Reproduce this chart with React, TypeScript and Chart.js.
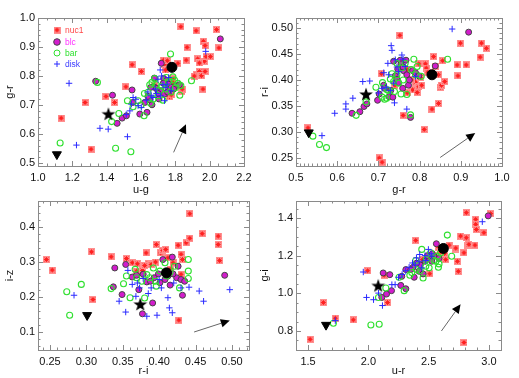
import React, { useEffect, useRef } from "react";
import { Chart, registerables } from "chart.js";

Chart.register(...registerables);

type Pt = [number, number];

// ---------------- Panel 1 : u-g vs g-r ----------------
const P1_NUC1: Pt[] = [[1.135,0.655],[1.274,0.709],[1.309,0.548],[1.396,0.730],[1.446,0.709],[1.512,0.763],[1.548,0.839],[1.602,0.816],[1.680,0.767],[1.732,0.855],[1.737,0.841],[1.743,0.821],[1.766,0.729],[1.786,0.790],[1.786,0.778],[1.815,0.844],[1.832,0.970],[1.838,0.747],[1.863,0.855],[1.868,0.899],[1.921,0.956],[1.925,0.805],[1.930,0.859],[1.940,0.816],[1.952,0.801],[1.963,0.920],[1.973,0.905],[1.969,0.851],[1.973,0.816],[1.961,0.755],[1.979,0.867],[2.004,0.867],[2.040,0.960],[2.054,0.897],[1.753,0.853],[1.776,0.735],[1.760,0.760],[1.940,0.845],[1.910,0.800],[1.840,0.755]];
const P1_BLC: Pt[] = [[1.336,0.782],[1.434,0.734],[1.461,0.637],[1.490,0.655],[1.515,0.663],[1.548,0.752],[1.552,0.709],[1.593,0.669],[1.622,0.709],[1.635,0.675],[1.651,0.718],[1.664,0.701],[1.678,0.793],[1.680,0.761],[1.705,0.721],[1.718,0.749],[1.718,0.844],[1.732,0.792],[1.737,0.738],[1.747,0.784],[1.761,0.772],[1.776,0.761],[1.805,0.767],[1.824,0.770],[2.062,0.928],[1.657,0.761],[1.690,0.757],[1.700,0.740],[1.730,0.775],[1.790,0.755],[1.640,0.730],[1.755,0.745]];
const P1_BAR: Pt[] = [[1.129,0.569],[1.346,0.778],[1.429,0.643],[1.471,0.671],[1.452,0.551],[1.521,0.715],[1.541,0.539],[1.554,0.694],[1.583,0.715],[1.618,0.663],[1.641,0.744],[1.656,0.706],[1.664,0.778],[1.689,0.770],[1.728,0.717],[1.747,0.795],[1.772,0.876],[1.795,0.786],[1.815,0.775],[1.826,0.734],[1.832,0.767],[1.894,0.784],[1.680,0.791],[1.699,0.732],[1.743,0.755],[1.786,0.797],[1.651,0.770],[1.710,0.750],[1.760,0.780],[1.800,0.760],[1.620,0.740],[1.670,0.720],[1.720,0.765],[1.775,0.745],[1.600,0.700]];
const P1_DISK: Pt[] = [[1.181,0.775],[1.224,0.562],[1.361,0.620],[1.409,0.617],[1.521,0.591],[1.514,0.667],[1.535,0.680],[1.544,0.703],[1.554,0.726],[1.583,0.698],[1.602,0.692],[1.631,0.717],[1.660,0.732],[1.670,0.726],[1.683,0.755],[1.712,0.821],[1.714,0.732],[1.728,0.770],[1.737,0.715],[1.753,0.772],[1.761,0.795],[1.776,0.749],[1.977,0.885],[1.699,0.789],[1.690,0.740],[1.640,0.745],[1.745,0.760],[1.720,0.800],[1.570,0.720]];
const P1_CIRCLE: Pt = [1.78, 0.83];
const P1_STAR: Pt = [1.41, 0.67];
const P1_TRIANGLE: Pt = [1.11, 0.53];
const P1_ARROW: Pt[] = [[1.79, 0.537], [1.862, 0.634]];
const P1_X_TICKS = [1.0, 1.2, 1.4, 1.6, 1.8, 2.0, 2.2];
const P1_Y_TICKS = [0.5, 0.6, 0.7, 0.8, 0.9, 1.0];

// ---------------- Panel 2 : g-r vs r-i ----------------
const P2_NUC1: Pt[] = [[0.529,0.308],[0.702,0.250],[0.709,0.242],[0.707,0.412],[0.752,0.486],[0.760,0.332],[0.783,0.381],[0.790,0.396],[0.794,0.376],[0.798,0.431],[0.798,0.387],[0.802,0.405],[0.811,0.305],[0.814,0.431],[0.816,0.423],[0.834,0.445],[0.838,0.426],[0.846,0.410],[0.846,0.355],[0.850,0.386],[0.853,0.390],[0.856,0.437],[0.830,0.344],[0.861,0.397],[0.891,0.429],[0.893,0.408],[0.899,0.471],[0.913,0.429],[0.950,0.471],[0.947,0.444],[0.962,0.461],[0.770,0.420],[0.780,0.400],[0.820,0.415],[0.740,0.390],[0.805,0.390],[0.770,0.375]];
const P2_BLC: Pt[] = [[0.636,0.336],[0.655,0.339],[0.665,0.349],[0.672,0.354],[0.698,0.361],[0.702,0.373],[0.713,0.390],[0.715,0.384],[0.726,0.368],[0.735,0.367],[0.737,0.436],[0.741,0.408],[0.745,0.401],[0.747,0.421],[0.753,0.438],[0.755,0.431],[0.759,0.384],[0.761,0.418],[0.767,0.438],[0.769,0.410],[0.773,0.390],[0.778,0.328],[0.783,0.418],[0.790,0.414],[0.798,0.408],[0.838,0.427],[0.919,0.492],[0.749,0.395],[0.730,0.380],[0.760,0.425],[0.775,0.400]];
const P2_BAR: Pt[] = [[0.541,0.292],[0.557,0.276],[0.574,0.270],[0.646,0.332],[0.670,0.358],[0.694,0.386],[0.709,0.367],[0.715,0.363],[0.721,0.381],[0.729,0.402],[0.733,0.412],[0.739,0.378],[0.745,0.432],[0.749,0.394],[0.755,0.373],[0.757,0.423],[0.765,0.432],[0.769,0.372],[0.778,0.333],[0.786,0.440],[0.790,0.410],[0.794,0.426],[0.804,0.407],[0.868,0.440],[0.725,0.380],[0.737,0.397],[0.710,0.395],[0.760,0.400],[0.720,0.365],[0.780,0.420],[0.745,0.410]];
const P2_DISK: Pt[] = [[0.594,0.336],[0.621,0.354],[0.621,0.344],[0.638,0.365],[0.662,0.397],[0.679,0.398],[0.709,0.384],[0.713,0.414],[0.719,0.386],[0.723,0.432],[0.731,0.466],[0.733,0.457],[0.737,0.394],[0.739,0.356],[0.741,0.439],[0.749,0.416],[0.757,0.448],[0.765,0.426],[0.769,0.344],[0.790,0.407],[0.879,0.498],[0.563,0.293],[0.729,0.380],[0.700,0.375],[0.745,0.425],[0.760,0.440],[0.725,0.410]];
const P2_CIRCLE: Pt = [0.83, 0.41];
const P2_STAR: Pt = [0.67, 0.373];
const P2_TRIANGLE: Pt = [0.531, 0.299];
const P2_ARROW: Pt[] = [[0.85, 0.251], [0.935, 0.298]];
const P2_X_TICKS = [0.5, 0.6, 0.7, 0.8, 0.9, 1.0];
const P2_Y_TICKS = [0.25, 0.3, 0.35, 0.4, 0.45, 0.5];

// ---------------- Panel 3 : r-i vs i-z ----------------
const P3_NUC1: Pt[] = [[0.245,0.307],[0.253,0.277],[0.307,0.329],[0.309,0.193],[0.334,0.315],[0.355,0.310],[0.363,0.298],[0.369,0.274],[0.377,0.276],[0.382,0.326],[0.385,0.295],[0.389,0.293],[0.396,0.350],[0.402,0.326],[0.405,0.333],[0.409,0.336],[0.412,0.312],[0.419,0.298],[0.426,0.348],[0.427,0.134],[0.430,0.322],[0.437,0.355],[0.442,0.438],[0.442,0.368],[0.459,0.381],[0.481,0.374],[0.481,0.350],[0.483,0.304],[0.432,0.307],[0.380,0.290],[0.395,0.300],[0.370,0.295],[0.415,0.280],[0.430,0.265]];
const P3_BLC: Pt[] = [[0.339,0.283],[0.337,0.229],[0.349,0.207],[0.354,0.293],[0.363,0.257],[0.369,0.262],[0.372,0.221],[0.377,0.152],[0.383,0.243],[0.391,0.183],[0.393,0.255],[0.399,0.266],[0.401,0.241],[0.405,0.307],[0.412,0.260],[0.415,0.234],[0.418,0.314],[0.424,0.255],[0.426,0.288],[0.430,0.250],[0.432,0.205],[0.435,0.245],[0.490,0.262],[0.388,0.245],[0.419,0.266],[0.378,0.265],[0.408,0.250]];
const P3_BAR: Pt[] = [[0.273,0.215],[0.277,0.148],[0.293,0.236],[0.334,0.224],[0.351,0.238],[0.360,0.198],[0.367,0.279],[0.376,0.245],[0.380,0.197],[0.387,0.255],[0.392,0.283],[0.396,0.231],[0.408,0.298],[0.421,0.288],[0.428,0.226],[0.440,0.307],[0.440,0.274],[0.440,0.253],[0.410,0.260],[0.401,0.274],[0.383,0.264],[0.369,0.255],[0.395,0.245],[0.415,0.270],[0.355,0.260]];
const P3_DISK: Pt[] = [[0.283,0.205],[0.345,0.188],[0.354,0.157],[0.357,0.276],[0.363,0.236],[0.368,0.202],[0.373,0.226],[0.378,0.253],[0.383,0.145],[0.397,0.148],[0.403,0.226],[0.412,0.198],[0.414,0.169],[0.418,0.155],[0.430,0.226],[0.441,0.228],[0.455,0.217],[0.461,0.188],[0.497,0.221],[0.389,0.226],[0.385,0.210],[0.420,0.240],[0.400,0.250],[0.370,0.240]];
const P3_CIRCLE: Pt = [0.41, 0.269];
const P3_STAR: Pt = [0.374, 0.18];
const P3_TRIANGLE: Pt = [0.301, 0.148];
const P3_ARROW: Pt[] = [[0.448, 0.10], [0.497, 0.133]];
const P3_X_TICKS = [0.25, 0.3, 0.35, 0.4, 0.45, 0.5];
const P3_Y_TICKS = [0.1, 0.2, 0.3, 0.4];

// ---------------- Panel 4 : u-r vs g-i ----------------
const P4_NUC1: Pt[] = [[1.517,0.756],[1.627,0.951],[1.726,0.868],[1.875,0.859],[1.994,1.120],[2.159,0.951],[2.131,1.096],[2.393,1.281],[2.448,1.179],[2.509,1.104],[2.581,1.245],[2.633,1.211],[2.669,1.256],[2.724,1.233],[2.765,1.304],[2.793,0.739],[2.793,1.215],[2.812,1.428],[2.812,1.295],[2.826,1.256],[2.834,1.260],[2.738,1.170],[2.746,1.117],[2.884,1.256],[2.890,1.393],[2.890,1.366],[2.895,1.339],[2.958,1.322],[3.014,1.423],[2.641,1.179],[2.725,1.240],[2.550,1.200],[2.600,1.220]];
const P4_BLC: Pt[] = [[2.123,1.108],[2.178,1.099],[2.112,0.978],[2.151,0.996],[2.192,1.014],[2.269,1.042],[2.311,1.024],[2.277,1.090],[2.311,1.126],[2.371,1.138],[2.380,1.085],[2.420,1.117],[2.454,1.103],[2.471,1.170],[2.504,1.188],[2.526,1.170],[2.545,1.197],[2.564,1.263],[2.586,1.185],[2.994,1.411],[2.352,1.126],[2.490,1.200],[2.430,1.150],[2.400,1.160],[2.530,1.210]];
const P4_BAR: Pt[] = [[1.710,0.841],[2.021,0.832],[2.090,0.836],[2.084,0.978],[2.145,1.028],[2.297,1.014],[2.344,1.096],[2.393,1.174],[2.399,1.126],[2.443,1.233],[2.454,1.081],[2.476,1.144],[2.504,1.135],[2.545,1.174],[2.573,1.197],[2.586,1.156],[2.600,1.215],[2.655,1.309],[2.691,1.197],[2.581,1.138],[2.255,1.085],[2.517,1.215],[2.360,1.110],[2.430,1.120],[2.480,1.180],[2.560,1.170]];
const P4_DISK: Pt[] = [[1.958,1.113],[1.985,0.978],[2.043,0.966],[2.084,1.001],[2.117,0.935],[2.195,1.046],[2.222,1.046],[2.250,1.085],[2.338,1.138],[2.366,1.161],[2.399,1.188],[2.426,1.206],[2.443,1.135],[2.476,1.174],[2.498,1.233],[2.526,1.197],[2.945,1.380],[1.726,0.855],[2.280,1.100],[2.310,1.120],[2.420,1.170],[2.470,1.200],[2.520,1.210],[2.390,1.150]];
const P4_CIRCLE: Pt = [2.622, 1.238];
const P4_STAR: Pt = [2.082, 1.042];
const P4_TRIANGLE: Pt = [1.649, 0.832];
const P4_ARROW: Pt[] = [[2.606, 0.80], [2.765, 0.942]];
const P4_X_TICKS = [1.5, 2.0, 2.5, 3.0];
const P4_Y_TICKS = [0.8, 1.0, 1.2, 1.4];

const LEGEND_LABELS = ["nuc1", "blc", "bar", "disk"];

const FONT = '"Liberation Sans", Arial, Helvetica, sans-serif';
const C_NUC = "#ff2020";
const C_NUC_BG = "#ff9090";
const C_BLC = "#d21ccc";
const C_BAR = "#2fe02f";
const C_DISK = "#2a2aff";
const LEGEND_COLORS = ["#ff4a4a", "#ff30ff", "#2fe02f", "#3a3aff"];

interface PanelDef {
  area: { left: number; right: number; top: number; bottom: number };
  xRange: [number, number];
  yRange: [number, number];
  xTicks: number[];
  yTicks: number[];
  xMajor: number;
  yMajor: number;
  xMinor: number;
  yMinor: number;
  xDec: number;
  yDec: number;
  xTitle: string;
  yTitle: string;
  xTitleY: number;
  yTitleX: number;
  nuc1: Pt[];
  blc: Pt[];
  bar: Pt[];
  disk: Pt[];
  circle: Pt;
  star: Pt;
  tri: Pt;
  arrow: Pt[];
  legend: boolean;
}

const PANELS: PanelDef[] = [
  {
    area: { left: 38, right: 244, top: 18, bottom: 166 },
    xRange: [1.0, 2.2], yRange: [0.49, 1.0],
    xTicks: P1_X_TICKS, yTicks: P1_Y_TICKS,
    xMajor: 0.2, yMajor: 0.1, xMinor: 0.05, yMinor: 0.02, xDec: 1, yDec: 1,
    xTitle: "u-g", yTitle: "g-r", xTitleY: 190, yTitleX: 10,
    nuc1: P1_NUC1, blc: P1_BLC, bar: P1_BAR, disk: P1_DISK,
    circle: P1_CIRCLE, star: P1_STAR, tri: P1_TRIANGLE, arrow: P1_ARROW, legend: true,
  },
  {
    area: { left: 296, right: 502, top: 18, bottom: 166 },
    xRange: [0.5, 1.0], yRange: [0.2346, 0.5192],
    xTicks: P2_X_TICKS, yTicks: P2_Y_TICKS,
    xMajor: 0.1, yMajor: 0.05, xMinor: 0.01, yMinor: 0.01, xDec: 1, yDec: 2,
    xTitle: "g-r", yTitle: "r-i", xTitleY: 190, yTitleX: 265,
    nuc1: P2_NUC1, blc: P2_BLC, bar: P2_BAR, disk: P2_DISK,
    circle: P2_CIRCLE, star: P2_STAR, tri: P2_TRIANGLE, arrow: P2_ARROW, legend: false,
  },
  {
    area: { left: 38, right: 249, top: 201, bottom: 350 },
    xRange: [0.2335, 0.5234], yRange: [0.0486, 0.4743],
    xTicks: P3_X_TICKS, yTicks: P3_Y_TICKS,
    xMajor: 0.05, yMajor: 0.1, xMinor: 0.01, yMinor: 0.02, xDec: 2, yDec: 1,
    xTitle: "r-i", yTitle: "i-z", xTitleY: 371, yTitleX: 10,
    nuc1: P3_NUC1, blc: P3_BLC, bar: P3_BAR, disk: P3_DISK,
    circle: P3_CIRCLE, star: P3_STAR, tri: P3_TRIANGLE, arrow: P3_ARROW, legend: false,
  },
  {
    area: { left: 296, right: 501, top: 201, bottom: 350 },
    xRange: [1.4, 3.1], yRange: [0.699, 1.49],
    xTicks: P4_X_TICKS, yTicks: P4_Y_TICKS,
    xMajor: 0.5, yMajor: 0.2, xMinor: 0.1, yMinor: 0.05, xDec: 1, yDec: 1,
    xTitle: "u-r", yTitle: "g-i", xTitleY: 371, yTitleX: 265,
    nuc1: P4_NUC1, blc: P4_BLC, bar: P4_BAR, disk: P4_DISK,
    circle: P4_CIRCLE, star: P4_STAR, tri: P4_TRIANGLE, arrow: P4_ARROW, legend: false,
  },
];

function makeNucImage(): HTMLCanvasElement {
  const c = document.createElement("canvas");
  c.width = 7;
  c.height = 7;
  const g = c.getContext("2d")!;
  g.fillStyle = C_NUC_BG;
  g.fillRect(0, 0, 7, 7);
  g.strokeStyle = C_NUC;
  g.lineWidth = 1;
  g.beginPath();
  g.moveTo(3.5, 1); g.lineTo(3.5, 6);
  g.moveTo(1, 3.5); g.lineTo(6, 3.5);
  g.moveTo(1.5, 1.5); g.lineTo(5.5, 5.5);
  g.moveTo(5.5, 1.5); g.lineTo(1.5, 5.5);
  g.stroke();
  return c;
}

function makeStarImage(): HTMLCanvasElement {
  const size = 16;
  const c = document.createElement("canvas");
  c.width = size;
  c.height = size;
  const g = c.getContext("2d")!;
  g.translate(size / 2, size / 2 + 0.8);
  g.fillStyle = "#000";
  g.beginPath();
  for (let i = 0; i < 10; i++) {
    const r = i % 2 ? 2.9 : 7.2;
    const a = -Math.PI / 2 + (i * Math.PI) / 5;
    if (i === 0) g.moveTo(r * Math.cos(a), r * Math.sin(a));
    else g.lineTo(r * Math.cos(a), r * Math.sin(a));
  }
  g.closePath();
  g.fill();
  return c;
}

const toXY = (pts: Pt[]) => pts.map(([x, y]) => ({ x, y }));

function drawMinorMajor(
  ctx: CanvasRenderingContext2D,
  scale: any,
  a: any,
  horizontal: boolean,
  major: number,
  minor: number
) {
  const k0 = Math.ceil(scale.min / minor - 1e-6);
  const k1 = Math.floor(scale.max / minor + 1e-6);
  ctx.beginPath();
  for (let k = k0; k <= k1; k++) {
    const v = k * minor;
    const r = v / major;
    const isMajor = Math.abs(r - Math.round(r)) < 1e-6;
    const len = isMajor ? 5 : 2.5;
    const p = Math.round(scale.getPixelForValue(v)) + 0.5;
    if (horizontal) {
      ctx.moveTo(p, a.bottom);
      ctx.lineTo(p, a.bottom - len);
      ctx.moveTo(p, a.top);
      ctx.lineTo(p, a.top + len);
    } else {
      ctx.moveTo(a.left, p);
      ctx.lineTo(a.left + len, p);
      ctx.moveTo(a.right, p);
      ctx.lineTo(a.right - len, p);
    }
  }
  ctx.stroke();
}

function makeIdlPlugin(def: PanelDef, nucImg: HTMLCanvasElement) {
  return {
    id: "idlFrame",
    beforeDatasetsDraw(chart: any) {
      const { ctx, chartArea: a, scales } = chart;
      ctx.save();
      ctx.strokeStyle = "#8a8a8a";
      ctx.lineWidth = 1;
      ctx.strokeRect(Math.round(a.left) + 0.5, Math.round(a.top) + 0.5, Math.round(a.right - a.left), Math.round(a.bottom - a.top));
      drawMinorMajor(ctx, scales.x, a, true, def.xMajor, def.xMinor);
      drawMinorMajor(ctx, scales.y, a, false, def.yMajor, def.yMinor);
      ctx.restore();
    },
    afterDatasetsDraw(chart: any) {
      const { ctx, scales } = chart;
      const xs = scales.x;
      const ys = scales.y;
      // arrow
      const x0 = xs.getPixelForValue(def.arrow[0][0]);
      const y0 = ys.getPixelForValue(def.arrow[0][1]);
      const x1 = xs.getPixelForValue(def.arrow[1][0]);
      const y1 = ys.getPixelForValue(def.arrow[1][1]);
      const ang = Math.atan2(y1 - y0, x1 - x0);
      const hl = 9;
      const hw = 4.2;
      const bx = x1 - hl * Math.cos(ang);
      const by = y1 - hl * Math.sin(ang);
      ctx.save();
      ctx.strokeStyle = "#666";
      ctx.lineWidth = 1;
      ctx.beginPath();
      ctx.moveTo(x0, y0);
      ctx.lineTo(bx, by);
      ctx.stroke();
      ctx.fillStyle = "#000";
      ctx.beginPath();
      ctx.moveTo(x1, y1);
      ctx.lineTo(bx + hw * Math.sin(ang), by - hw * Math.cos(ang));
      ctx.lineTo(bx - hw * Math.sin(ang), by + hw * Math.cos(ang));
      ctx.closePath();
      ctx.fill();

      if (def.legend) {
        const a = chart.chartArea;
        const sx = a.left + 19;
        const tx = a.left + 27;
        const rows = [30, 42, 53, 64];
        ctx.font = `8.5px ${FONT}`;
        ctx.textBaseline = "middle";
        ctx.textAlign = "left";
        LEGEND_LABELS.forEach((lab, i) => {
          const y = rows[i];
          if (i === 0) {
            ctx.drawImage(nucImg, sx - 3.5, y - 3.5);
          } else if (i === 1) {
            ctx.beginPath();
            ctx.arc(sx, y, 3.3, 0, Math.PI * 2);
            ctx.fillStyle = C_BLC;
            ctx.fill();
            ctx.strokeStyle = "#444";
            ctx.stroke();
          } else if (i === 2) {
            ctx.beginPath();
            ctx.arc(sx, y, 3, 0, Math.PI * 2);
            ctx.strokeStyle = C_BAR;
            ctx.stroke();
          } else {
            ctx.beginPath();
            ctx.moveTo(sx - 3, y);
            ctx.lineTo(sx + 3, y);
            ctx.moveTo(sx, y - 3);
            ctx.lineTo(sx, y + 3);
            ctx.strokeStyle = C_DISK;
            ctx.stroke();
          }
          ctx.fillStyle = LEGEND_COLORS[i];
          ctx.fillText(lab, tx, y + 0.5);
        });
      }
      ctx.restore();
    },
  };
}

function Panel({ def }: { def: PanelDef }) {
  const ref = useRef<HTMLCanvasElement>(null);
  useEffect(() => {
    const nucImg = makeNucImage();
    const starImg = makeStarImage();
    const W = 519;
    const H = 378;
    const lh = 11 * 1.2;
    const yScaleLeft = def.yTitleX - lh / 2;
    const yAxisW = def.area.left - yScaleLeft;
    const xAxisH = def.xTitleY + lh / 2 - def.area.bottom;
    const tickFont = { family: FONT, size: 11 };
    const chart = new Chart(ref.current!, {
      type: "scatter",
      data: {
        datasets: [
          { label: "nuc1", data: toXY(def.nuc1), pointStyle: nucImg as any, pointRadius: 3.5, order: 5 },
          { label: "blc", data: toXY(def.blc), pointStyle: "circle", pointRadius: 3, backgroundColor: C_BLC, borderColor: "#444", borderWidth: 1, order: 4 },
          { label: "bar", data: toXY(def.bar), pointStyle: "circle", pointRadius: 3, backgroundColor: "rgba(0,0,0,0)", borderColor: C_BAR, borderWidth: 1.1, order: 3 },
          { label: "disk", data: toXY(def.disk), pointStyle: "cross", pointRadius: 3.2, borderColor: C_DISK, borderWidth: 1, order: 2 },
          { label: "circle", data: toXY([def.circle]), pointStyle: "circle", pointRadius: 5, backgroundColor: "#000", borderColor: "#000", borderWidth: 1, order: 1 },
          { label: "star", data: toXY([def.star]), pointStyle: starImg as any, pointRadius: 7, order: 1 },
          { label: "triangle", data: toXY([def.tri]), pointStyle: "triangle", rotation: 180, pointRadius: 5.2, backgroundColor: "#000", borderColor: "#000", borderWidth: 1, order: 1 },
        ] as any,
      },
      options: {
        responsive: false,
        animation: false,
        events: [],
        layout: {
          padding: {
            left: yScaleLeft,
            top: def.area.top,
            right: W - def.area.right,
            bottom: H - def.area.bottom - xAxisH,
          },
        },
        plugins: { legend: { display: false }, tooltip: { enabled: false } },
        scales: {
          x: {
            type: "linear",
            min: def.xRange[0],
            max: def.xRange[1],
            afterBuildTicks: (s: any) => {
              s.ticks = def.xTicks.map((v) => ({ value: v }));
            },
            afterFit: (s: any) => {
              s.height = xAxisH;
              s.paddingLeft = 0;
              s.paddingRight = 0;
            },
            grid: { display: false, drawTicks: false },
            border: { display: false },
            ticks: {
              padding: 5,
              autoSkip: false,
              maxRotation: 0,
              minRotation: 0,
              color: "#111",
              font: tickFont,
              callback: (v: any) => Number(v).toFixed(def.xDec),
            },
            title: { display: true, text: def.xTitle, color: "#111", font: tickFont, padding: 0 },
          },
          y: {
            type: "linear",
            min: def.yRange[0],
            max: def.yRange[1],
            afterBuildTicks: (s: any) => {
              s.ticks = def.yTicks.map((v) => ({ value: v }));
            },
            afterFit: (s: any) => {
              s.width = yAxisW;
              s.paddingTop = 0;
              s.paddingBottom = 0;
            },
            grid: { display: false, drawTicks: false },
            border: { display: false },
            ticks: {
              padding: 3,
              autoSkip: false,
              color: "#111",
              font: tickFont,
              callback: (v: any) => Number(v).toFixed(def.yDec),
            },
            title: { display: true, text: def.yTitle, color: "#111", font: tickFont, padding: 0 },
          },
        },
      } as any,
      plugins: [makeIdlPlugin(def, nucImg)],
    });
    return () => chart.destroy();
  }, [def]);
  return (
    <canvas
      ref={ref}
      width={519}
      height={378}
      style={{ position: "absolute", left: 0, top: 0, width: 519, height: 378 }}
    />
  );
}

export default function App() {
  return (
    <div style={{ position: "absolute", left: 0, top: 0, width: 519, height: 378, background: "#fff" }}>
      {PANELS.map((p, i) => (
        <Panel key={i} def={p} />
      ))}
    </div>
  );
}
